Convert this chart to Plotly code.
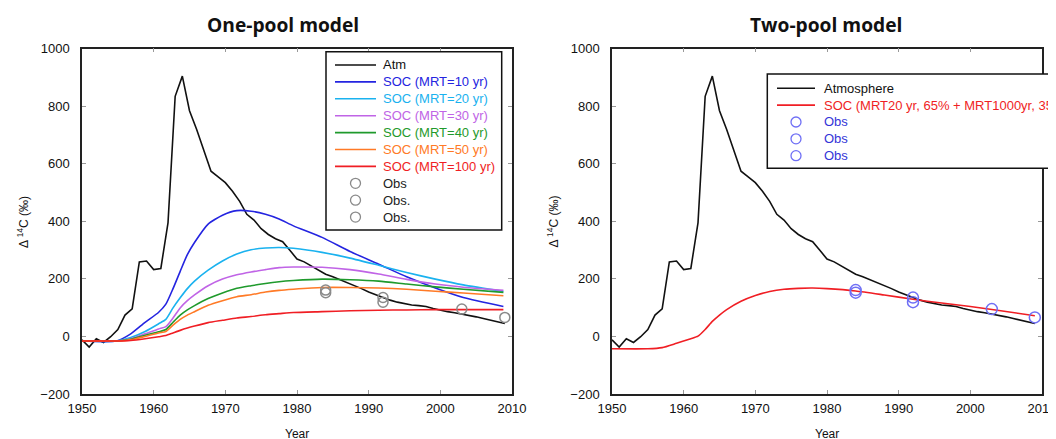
import plotly.graph_objects as go
from plotly.subplots import make_subplots

# atmospheric record
atm_years = list(range(1950, 2010))
atm_vals = [-12, -37, -8, -21, -1, 24, 74, 96, 259, 262,
            232, 236, 394, 834, 904, 784, 719, 644, 574, 554,
            534, 504, 469, 424, 404, 374, 354, 339, 329, 299,
            269, 259, 244, 229, 216, 207, 197, 187, 177, 166,
            154, 144, 134, 126, 119, 114, 109, 107, 104, 97,
            91, 86, 82, 78, 74, 68, 62, 56, 51, 45]

# one-pool model, soil organic carbon
soc_years = [1950, 1954.8, 1956.8, 1958.8, 1960.7, 1961.7, 1962.7, 1963.7, 1964.7, 1965.7,
             1967.6, 1969.6, 1971.6, 1973.6, 1975.6, 1977.5, 1979.5, 1983.5, 1987.4, 1991.4,
             1995.3, 1999.3, 2003.2, 2008.8]
soc_mrt10 = [-16, -16, 9, 49, 84, 112, 166, 226, 284, 326, 390, 421,
             437, 435, 424, 408, 384, 344, 295, 251, 207, 168, 135, 104]
soc_mrt20 = [-16, -16, -4, 17, 44, 59, 99, 134, 166, 192, 230, 262,
             286, 301, 307, 309, 306, 292, 272, 247, 222, 199, 179, 156]
soc_mrt30 = [-16, -16, -8, 9, 26, 34, 64, 99, 124, 144, 176, 199,
             214, 224, 232, 239, 241, 240, 232, 217, 198, 182, 171, 160]
soc_mrt40 = [-16, -16, -10, 4, 16, 24, 49, 74, 92, 107, 132, 151,
             167, 176, 184, 190, 194, 199, 197, 192, 182, 172, 164, 153]
soc_mrt50 = [-16, -16, -12, 0, 12, 17, 39, 59, 74, 86, 108, 124,
             138, 145, 154, 160, 164, 170, 170, 168, 164, 157, 151, 141]
soc_mrt100 = [-16, -16, -14, -8, -1, 3, 12, 21, 29, 36, 48, 56,
              64, 69, 75, 79, 83, 86, 89, 91, 92, 93, 93, 93]

# two-pool model
twopool_years = [1950, 1955, 1957, 1959, 1961, 1962, 1963, 1964, 1965, 1966, 1968, 1970,
                 1972, 1974, 1976, 1978, 1980, 1984, 1988, 1992, 1996, 2000, 2004, 2009]
soc_twopool = [-43, -43, -39, -24, -8, 1, 24, 52, 74, 93, 122, 142,
               156, 164, 167, 168, 166, 158, 144, 129, 116, 104, 90, 72]

# observations
obs1_years = [1984, 1992]
obs1_vals = [161, 135]
obs2_years = [1984, 1992]
obs2_vals = [152, 119]
obs3_years = [2003, 2009]
obs3_vals = [95, 66]

BLACK = "#111111"
RED = "#f01e24"
OBS_GREY = "#8a8a8a"
OBS_BLUE = "#6f6ff5"

soc_one_pool = [
    ("SOC (MRT=10 yr)", soc_mrt10, "#2424e0"),
    ("SOC (MRT=20 yr)", soc_mrt20, "#1ab2ef"),
    ("SOC (MRT=30 yr)", soc_mrt30, "#c064e6"),
    ("SOC (MRT=40 yr)", soc_mrt40, "#1f9a2c"),
    ("SOC (MRT=50 yr)", soc_mrt50, "#ff7a26"),
    ("SOC (MRT=100 yr)", soc_mrt100, RED),
]
observations = [(obs1_years, obs1_vals), (obs2_years, obs2_vals), (obs3_years, obs3_vals)]

# page pixels -> paper fractions (the page body adds an 8px offset)
W, H, OFF = 1056, 439, 8


def fx(p):
    return (p - OFF) / W


def fy(p):
    return 1 - (p - OFF) / H


fig = make_subplots(rows=1, cols=2)

# One-pool panel
fig.add_trace(go.Scatter(x=atm_years, y=atm_vals, mode="lines", line=dict(color=BLACK, width=1.6)),
              row=1, col=1)
for name, vals, color in soc_one_pool:
    fig.add_trace(go.Scatter(x=soc_years, y=vals, mode="lines",
                             line=dict(color=color, width=1.6, shape="spline", smoothing=0.6)),
                  row=1, col=1)
for xs, ys in observations:
    fig.add_trace(go.Scatter(x=xs, y=ys, mode="markers",
                             marker=dict(symbol="circle-open", size=10, color=OBS_GREY,
                                         line=dict(width=1.5))),
                  row=1, col=1)

# Two-pool panel
fig.add_trace(go.Scatter(x=atm_years, y=atm_vals, mode="lines", line=dict(color=BLACK, width=1.6)),
              row=1, col=2)
fig.add_trace(go.Scatter(x=twopool_years, y=soc_twopool, mode="lines",
                         line=dict(color=RED, width=1.6, shape="spline", smoothing=0.6)),
              row=1, col=2)
for xs, ys in observations:
    fig.add_trace(go.Scatter(x=xs, y=ys, mode="markers",
                             marker=dict(symbol="circle-open", size=11, color=OBS_BLUE,
                                         line=dict(width=1.5))),
                  row=1, col=2)

axis_style = dict(showline=True, linecolor="#222222", linewidth=1.5, mirror="ticks",
                  ticks="inside", ticklen=4, tickcolor="#999999", showgrid=False,
                  zeroline=False, automargin=False, tickfont=dict(size=13, color=BLACK))

fig.update_xaxes(range=[1950, 2010], dtick=10, ticklabelstandoff=2, **axis_style)
fig.update_yaxes(range=[-200, 1000], dtick=200, ticklabelstandoff=8, **axis_style)
fig.update_xaxes(domain=[fx(82), fx(512)], row=1, col=1)
fig.update_xaxes(domain=[fx(612), fx(1042)], row=1, col=2)
fig.update_yaxes(domain=[fy(394), fy(48.5)])

# hand-drawn legends (compact row spacing like the original)
legend_one = [("Atm", BLACK, "line", BLACK)] + \
             [(n, c, "line", c) for n, _, c in soc_one_pool] + \
             [("Obs", OBS_GREY, "marker", "#222222"), ("Obs.", OBS_GREY, "marker", "#222222"),
              ("Obs.", OBS_GREY, "marker", "#222222")]
legend_two = [("Atmosphere", BLACK, "line", BLACK),
              ("SOC (MRT20 yr, 65% + MRT1000yr, 35%)", RED, "line", RED),
              ("Obs", OBS_BLUE, "marker", "#3434d8"), ("Obs", OBS_BLUE, "marker", "#3434d8"),
              ("Obs", OBS_BLUE, "marker", "#3434d8")]

shapes = []
annotations = []


def add_legend(items, box, line_x, text_x, y_first, step):
    x0, y0, x1, y1 = box
    shapes.append(dict(type="rect", xref="paper", yref="paper", x0=fx(x0), x1=fx(x1),
                       y0=fy(y1), y1=fy(y0), line=dict(color=BLACK, width=1.5),
                       fillcolor="white", layer="above"))
    for i, (label, color, kind, text_color) in enumerate(items):
        yy = fy(y_first + i * step)
        if kind == "line":
            shapes.append(dict(type="line", xref="paper", yref="paper", x0=fx(line_x[0]),
                               x1=fx(line_x[1]), y0=yy, y1=yy, line=dict(color=color, width=1.6)))
        else:
            shapes.append(dict(type="circle", xref="paper", yref="paper",
                               xsizemode="pixel", ysizemode="pixel",
                               xanchor=fx((line_x[0] + line_x[1]) / 2), yanchor=yy,
                               x0=-5, x1=5, y0=-5, y1=5, line=dict(color=color, width=1.3)))
        annotations.append(dict(text=label, x=fx(text_x), y=yy, xref="paper", yref="paper",
                                xanchor="left", yanchor="middle", showarrow=False,
                                font=dict(size=13, color=text_color)))


add_legend(legend_one, (326, 51.7, 501.7, 230), (335, 376), 381, 65, 16.9)
add_legend(legend_two, (767.3, 74, 1070, 168.3), (777, 815), 822, 88.3, 16.85)

# titles
title_font = dict(size=19.2, family="Open Sans, sans-serif", color=BLACK)
for text, cx in [("<b>One-pool model</b>", 282.7), ("<b>Two-pool model</b>", 826)]:
    annotations.append(dict(text=text, x=fx(cx), y=fy(24.5), xref="paper", yref="paper",
                            xanchor="center", yanchor="middle", showarrow=False, font=title_font))
# axis titles
for cx in [297, 827]:
    annotations.append(dict(text="Year", x=fx(cx), y=fy(434), xref="paper", yref="paper",
                            xanchor="center", yanchor="middle", showarrow=False,
                            font=dict(size=12, color=BLACK)))
for cx in [23, 552.6]:
    annotations.append(dict(text="Δ <sup>14</sup>C (‰)", x=fx(cx), y=fy(222), xref="paper",
                            yref="paper", xanchor="center", yanchor="middle", textangle=-90,
                            showarrow=False, font=dict(size=12, color=BLACK)))

fig.update_layout(
    width=W,
    height=H,
    margin=dict(l=0, r=0, t=0, b=0),
    paper_bgcolor="white",
    plot_bgcolor="white",
    font=dict(family="Liberation Sans, Arial, sans-serif", color=BLACK),
    showlegend=False,
    shapes=shapes,
    annotations=annotations,
)

fig.write_html("out.html")
